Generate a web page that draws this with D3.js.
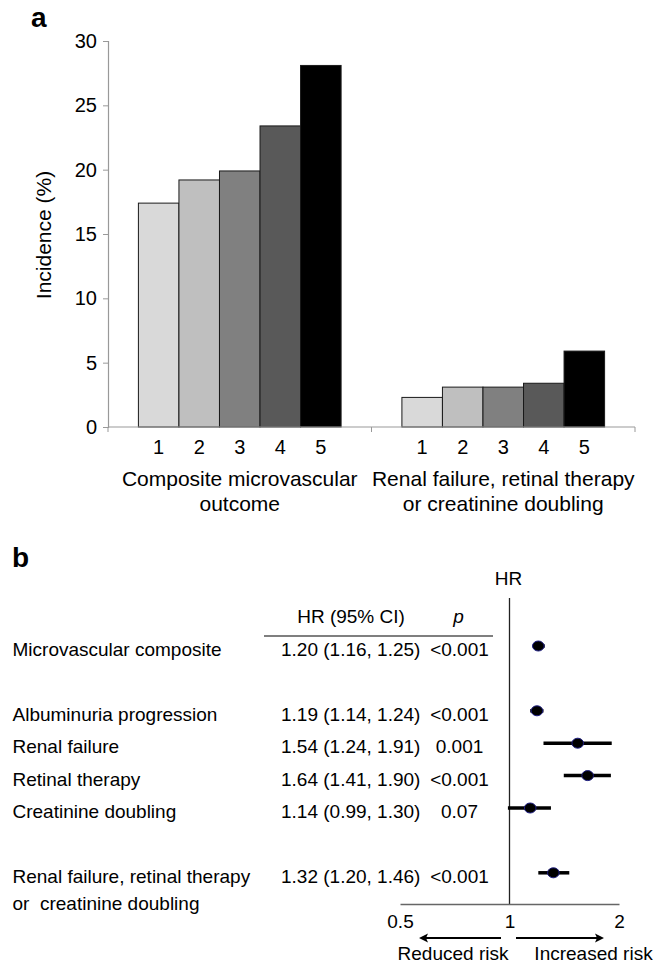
<!DOCTYPE html>
<html>
<head>
<meta charset="utf-8">
<script src="https://cdn.jsdelivr.net/npm/d3@7"></script>
<style>
  html, body { margin: 0; padding: 0; background: #fff; }
  svg { display: block; font-family: "Liberation Sans", Arial, Helvetica, sans-serif; }
  text { fill: #000; }
</style>
</head>
<body>
<svg id="chart" width="667" height="965"></svg>
<script>
// ---------- Data: panel a ----------
const groups = ["Composite microvascular outcome", "Renal failure, retinal therapy or creatinine doubling"];
const groupLabelLines = [["Composite microvascular", "outcome"], ["Renal failure, retinal therapy", "or creatinine doubling"]];
const quintiles = ["1", "2", "3", "4", "5"];
const compositeValues = [17.4, 19.2, 19.9, 23.4, 28.1];
const renalRetinalValues = [2.3, 3.1, 3.1, 3.4, 5.9];
const yTicks = [0, 5, 10, 15, 20, 25, 30];
const yLabel = "Incidence (%)";

// ---------- Data: panel b ----------
const outcomes = ["Microvascular composite", "Albuminuria progression", "Renal failure", "Retinal therapy", "Creatinine doubling", "Renal failure, retinal therapy|or  creatinine doubling"];
const hrValues = [1.20, 1.19, 1.54, 1.64, 1.14, 1.32];
const ciLow = [1.16, 1.14, 1.24, 1.41, 0.99, 1.20];
const ciHigh = [1.25, 1.24, 1.91, 1.90, 1.30, 1.46];
const pValues = ["<0.001", "<0.001", "0.001", "<0.001", "0.07", "<0.001"];
const hrTicks = [0.5, 1, 2];

// ---------- Styles / layout ----------
const barColors = ["#d9d9d9", "#bfbfbf", "#808080", "#595959", "#000000"];
const rowSlots = [0, 2, 3, 4, 5, 7];
const FS = 20;

const svg = d3.select("#chart");
const seriesByGroup = [compositeValues, renalRetinalValues];

// ================= Panel a =================
svg.append("text").attr("x", 31).attr("y", 27).attr("font-size", 28).attr("font-weight", "bold").text("a");

const xGroup = d3.scaleBand().domain(groups).range([108, 635]).paddingInner(0).paddingOuter(0);
const xBar = d3.scaleBand().domain(quintiles).range([0, xGroup.bandwidth()]).paddingInner(0).paddingOuter(0.75);
const y = d3.scaleLinear().domain([0, 30]).range([427, 41]);

const gA = svg.append("g");

// y axis
const yAxis = gA.append("g").attr("transform", "translate(108,0)")
  .call(d3.axisLeft(y).tickValues(yTicks).tickSize(5).tickPadding(6).tickFormat(d3.format("d")));
yAxis.select(".domain").attr("stroke", "#999").attr("stroke-width", 1.2);
yAxis.selectAll(".tick line").attr("stroke", "#999");
yAxis.selectAll(".tick text").attr("font-size", FS).attr("font-family", "Liberation Sans, Arial, sans-serif").attr("fill", "#000");

// bars
groups.forEach((g, gi) => {
  const gx = xGroup(g);
  gA.append("g").selectAll("rect").data(seriesByGroup[gi]).join("rect")
    .attr("x", (d, i) => gx + xBar(quintiles[i]))
    .attr("y", d => y(d))
    .attr("width", xBar.bandwidth())
    .attr("height", d => y(0) - y(d))
    .attr("fill", (d, i) => barColors[i])
    .attr("stroke", "#1a1a1a")
    .attr("stroke-width", 1);
  // quintile labels
  gA.append("g").selectAll("text").data(quintiles).join("text")
    .attr("x", q => gx + xBar(q) + xBar.bandwidth() / 2)
    .attr("y", 454)
    .attr("text-anchor", "middle")
    .attr("font-size", FS)
    .text(q => q);
  // group labels
  groupLabelLines[gi].forEach((line, li) => {
    gA.append("text")
      .attr("x", gx + xGroup.bandwidth() / 2)
      .attr("y", 485.5 + li * 25)
      .attr("text-anchor", "middle")
      .attr("font-size", 21)
      .text(line);
  });
});

// x axis (category boundaries)
const xAxis = gA.append("g").attr("transform", `translate(0,${y(0)})`);
xAxis.append("line").attr("x1", 108).attr("x2", 635).attr("stroke", "#999").attr("stroke-width", 1.2);
const boundaries = [xGroup(groups[0]), xGroup(groups[1]), xGroup(groups[1]) + xGroup.bandwidth()];
xAxis.selectAll("line.tk").data(boundaries).join("line").attr("class", "tk")
  .attr("x1", d => d).attr("x2", d => d).attr("y1", 0).attr("y2", 5).attr("stroke", "#999");

// y label
gA.append("text")
  .attr("transform", "translate(51,235) rotate(-90)")
  .attr("text-anchor", "middle")
  .attr("font-size", 21)
  .text(yLabel);

// ================= Panel b =================
const FB = 19;
svg.append("text").attr("x", 12).attr("y", 567).attr("font-size", 28).attr("font-weight", "bold").text("b");

const xHR = d3.scaleLog().domain([0.5, 2]).range([400, 619]);
const rowY = d3.scaleLinear().domain([0, 1]).range([646, 678.4]);
const gB = svg.append("g");

// headers
gB.append("text").attr("x", xHR(1) - 1).attr("y", 585).attr("text-anchor", "middle").attr("font-size", FB).text("HR");
gB.append("text").attr("x", 351).attr("y", 623).attr("text-anchor", "middle").attr("font-size", FB).text("HR (95% CI)");
gB.append("text").attr("x", 458.5).attr("y", 623).attr("text-anchor", "middle").attr("font-size", FB).attr("font-style", "italic").text("p");
gB.append("line").attr("x1", 264).attr("x2", 493).attr("y1", 636).attr("y2", 636).attr("stroke", "#555").attr("stroke-width", 1.3);

// vertical reference line at HR = 1
gB.append("line").attr("x1", xHR(1)).attr("x2", xHR(1)).attr("y1", 598).attr("y2", 904).attr("stroke", "#222").attr("stroke-width", 1.3);

// hr axis
const hrAxis = gB.append("g").attr("transform", "translate(0,904)")
  .call(d3.axisBottom(xHR).tickValues(hrTicks).tickSize(0).tickPadding(10.5).tickFormat(d => String(d)));
hrAxis.select(".domain").attr("stroke", "#666").attr("stroke-width", 1.3);
hrAxis.selectAll(".tick text").attr("font-size", FB).attr("font-family", "Liberation Sans, Arial, sans-serif").attr("fill", "#000");

// rows
outcomes.forEach((name, i) => {
  const cy = rowY(rowSlots[i]);
  const lines = name.split("|");
  lines.forEach((ln, li) => {
    gB.append("text").attr("x", 12.5).attr("y", cy + 10 + li * 27).attr("font-size", FB)
      .attr("xml:space", "preserve").style("white-space", "pre").text(ln);
  });
  gB.append("text").attr("x", 281).attr("y", cy + 10).attr("font-size", FB)
    .text(`${hrValues[i].toFixed(2)} (${ciLow[i].toFixed(2)}, ${ciHigh[i].toFixed(2)})`);
  gB.append("text").attr("x", 459.5).attr("y", cy + 10).attr("text-anchor", "middle").attr("font-size", FB)
    .text(pValues[i]);
  gB.append("line").attr("x1", xHR(ciLow[i])).attr("x2", xHR(ciHigh[i])).attr("y1", cy).attr("y2", cy)
    .attr("stroke", "#000").attr("stroke-width", 3.5);
  gB.append("ellipse").attr("cx", xHR(hrValues[i])).attr("cy", cy).attr("rx", 5.8).attr("ry", 5)
    .attr("fill", "#000").attr("stroke", "#1c1c80").attr("stroke-width", 1);
});

// arrows
const arrowY = 938;
function arrow(x1, x2) {
  const dir = Math.sign(x2 - x1);
  gB.append("line").attr("x1", x1).attr("x2", x2 - dir * 4).attr("y1", arrowY).attr("y2", arrowY)
    .attr("stroke", "#000").attr("stroke-width", 2.2);
  gB.append("path")
    .attr("d", `M${x2},${arrowY} L${x2 - dir * 9},${arrowY - 4.5} L${x2 - dir * 7},${arrowY} L${x2 - dir * 9},${arrowY + 4.5} Z`)
    .attr("fill", "#000");
}
arrow(xHR(1) - 8.5, xHR(0.5) + 19);
arrow(xHR(1) + 6.5, xHR(2) - 15);
gB.append("text").attr("x", 453).attr("y", 960).attr("text-anchor", "middle").attr("font-size", FB).text("Reduced risk");
gB.append("text").attr("x", 593.5).attr("y", 960).attr("text-anchor", "middle").attr("font-size", FB).text("Increased risk");
</script>
</body>
</html>
